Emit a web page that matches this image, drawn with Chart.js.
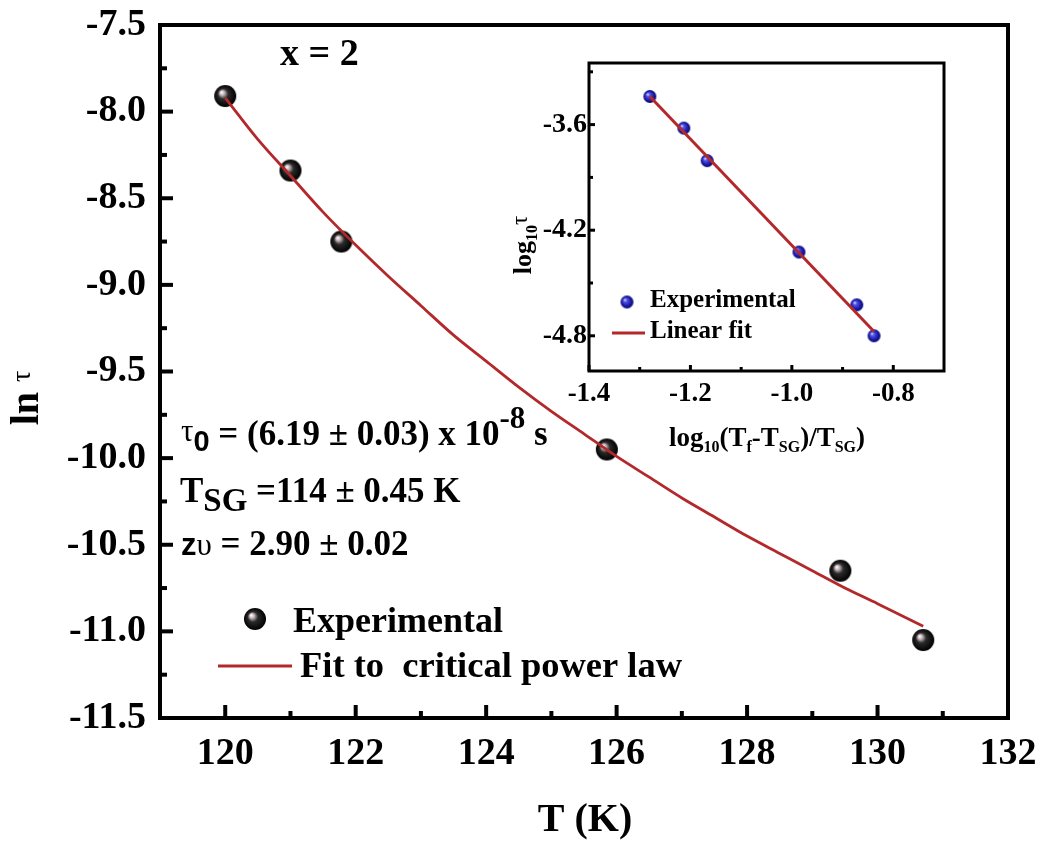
<!DOCTYPE html>
<html>
<head>
<meta charset="utf-8">
<script src="https://cdn.jsdelivr.net/npm/chart.js@4/dist/chart.umd.min.js"></script>
<style>
html,body{margin:0;padding:0;background:#fff;}
#wrap{position:relative;width:1044px;height:842px;background:#fff;}
#main{position:absolute;left:0;top:0;}
#inset{position:absolute;left:480px;top:40px;}
</style>
</head>
<body>
<div id="wrap">
<canvas id="main" width="1044" height="842"></canvas>
<canvas id="inset" width="480" height="420"></canvas>
</div>
<script>
// ---------- main chart data ----------
const tempK = [120.0, 121.0, 121.78, 125.85, 129.43, 130.7];
const lnTau = [-7.91, -8.34, -8.75, -9.95, -10.65, -11.05];
const fitTempK = [120, 120.5, 121, 121.5, 122, 122.5, 123, 123.5, 124, 124.5, 125, 125.5, 126, 126.5, 127, 127.5, 128, 128.5, 129, 129.5, 130, 130.7];
const fitLnTau = [-7.92, -8.16, -8.37, -8.58, -8.77, -8.95, -9.12, -9.29, -9.44, -9.59, -9.73, -9.86, -9.99, -10.11, -10.23, -10.34, -10.45, -10.55, -10.65, -10.75, -10.84, -10.97];
const xMajorTicks = [120, 122, 124, 126, 128, 130, 132];
const xMinorTicks = [121, 123, 125, 127, 129, 131];
const yMajorTicks = [-7.5, -8.0, -8.5, -9.0, -9.5, -10.0, -10.5, -11.0, -11.5];
const yMinorTicks = [-7.75, -8.25, -8.75, -9.25, -9.75, -10.25, -10.75, -11.25];

// ---------- inset data ----------
const insetLogReduced = [-1.28, -1.213, -1.167, -0.986, -0.872, -0.838];
const insetLogTau = [-3.44, -3.62, -3.805, -4.324, -4.624, -4.80];
const insetFitX = [-1.28, -0.838];
const insetFitY = [-3.44, -4.776];
const insetXMajor = [-1.4, -1.2, -1.0, -0.8];
const insetXMinor = [-1.3, -1.1, -0.9];
const insetYMajor = [-3.6, -4.2, -4.8];
const insetYMinor = [-3.3, -3.9, -4.5];

const SERIF = "'Liberation Serif','Times New Roman',serif";
const SANS = "'Liberation Sans',Arial,sans-serif";
const RED = '#b3282b';

function sphere(r, stops) {
  const c = document.createElement('canvas');
  c.width = c.height = 2 * r + 2;
  const g = c.getContext('2d');
  const cx = r + 1, cy = r + 1;
  const grad = g.createRadialGradient(cx - r * 0.35, cy - r * 0.35, r * 0.03, cx, cy, r);
  stops.forEach(s => grad.addColorStop(s[0], s[1]));
  g.fillStyle = grad;
  g.beginPath(); g.arc(cx, cy, r, 0, Math.PI * 2); g.fill();
  return c;
}
const blackBall = sphere(11, [[0, '#ffffff'], [0.18, '#c8b8bc'], [0.45, '#2a2a2a'], [1, '#000000']]);
const blueBall = sphere(6.5, [[0, '#e8e8ff'], [0.25, '#5555e8'], [0.7, '#1a1aa8'], [1, '#0a0a70']]);

function runsWidth(ctx, runs) {
  let w = 0;
  runs.forEach(r => { ctx.font = r[1]; w += ctx.measureText(r[0]).width; });
  return w;
}
function drawRuns(ctx, runs, x, y) {
  ctx.textAlign = 'left';
  ctx.textBaseline = 'alphabetic';
  ctx.fillStyle = '#000';
  let cx = x;
  runs.forEach(r => {
    ctx.font = r[1];
    ctx.fillText(r[0], cx, y + (r[2] || 0));
    cx += ctx.measureText(r[0]).width;
  });
}

function frameAndTicks(chart, cfg) {
  const ctx = chart.ctx, a = chart.chartArea;
  const xs = chart.scales.x, ys = chart.scales.y;
  ctx.save();
  ctx.strokeStyle = '#000';
  ctx.lineCap = 'butt';
  ctx.lineWidth = cfg.tickWidth;
  const tick = (vals, len, axis) => {
    vals.forEach(v => {
      ctx.beginPath();
      if (axis === 'x') {
        const p = xs.getPixelForValue(v);
        ctx.moveTo(p, a.bottom); ctx.lineTo(p, a.bottom - len);
      } else {
        const p = ys.getPixelForValue(v);
        ctx.moveTo(a.left, p); ctx.lineTo(a.left + len, p);
      }
      ctx.stroke();
    });
  };
  tick(cfg.xMajor, cfg.major, 'x');
  tick(cfg.xMinor, cfg.minor, 'x');
  tick(cfg.yMajor, cfg.major, 'y');
  tick(cfg.yMinor, cfg.minor, 'y');
  ctx.lineWidth = cfg.frameWidth;
  ctx.lineJoin = 'miter';
  ctx.strokeRect(a.left, a.top, a.right - a.left, a.bottom - a.top);
  ctx.restore();
}
function noPadX(h) { return s => { s.height = h; s.paddingLeft = 0; s.paddingRight = 0; }; }
function noPadY(w) { return s => { s.width = w; s.paddingTop = 0; s.paddingBottom = 0; }; }

// ---------------- MAIN CHART ----------------
const mainPlugin = {
  id: 'mainDecor',
  afterDatasetsDraw(chart) {
    frameAndTicks(chart, { xMajor: xMajorTicks, xMinor: xMinorTicks, yMajor: yMajorTicks, yMinor: yMinorTicks, major: 13, minor: 7, tickWidth: 4, frameWidth: 4 });
    const ctx = chart.ctx;
    ctx.save();
    ctx.fillStyle = '#000';
    ctx.textAlign = 'center';
    ctx.textBaseline = 'alphabetic';
    ctx.font = 'bold 40px ' + SERIF;
    ctx.fillText('T (K)', 585, 831);
    ctx.save();
    ctx.translate(38, 398);
    ctx.rotate(-Math.PI / 2);
    const yt = [['ln ', 'bold 40px ' + SERIF, 0], ['τ', '28px ' + SERIF, -8]];
    drawRuns(ctx, yt, -runsWidth(ctx, yt) / 2, 0);
    ctx.restore();

    // annotations
    drawRuns(ctx, [['x = 2', 'bold 38px ' + SERIF, 0]], 280, 65);
    drawRuns(ctx, [
      ['τ', '31px ' + SERIF, -4],
      ['0', 'bold 29px ' + SANS, 6],
      [' = (6.19 ± 0.03) x 10', 'bold 35px ' + SERIF, 0],
      ['-8', 'bold 31px ' + SERIF, -17],
      [' s', 'bold 35px ' + SERIF, 0]
    ], 181, 445);
    drawRuns(ctx, [
      ['T', 'bold 35px ' + SERIF, 0],
      ['SG', 'bold 33px ' + SERIF, 9],
      [' =114 ± 0.45 K', 'bold 35px ' + SERIF, 0]
    ], 180, 502);
    drawRuns(ctx, [
      ['z', 'bold 31px ' + SANS, 0],
      ['υ', '31px ' + SERIF, 0],
      [' = 2.90 ± 0.02', 'bold 35px ' + SERIF, 0]
    ], 181, 555);

    // legend
    ctx.drawImage(blackBall, 255 - 12, 619 - 12);
    drawRuns(ctx, [['Experimental', 'bold 36px ' + SERIF, 0]], 293, 632);
    ctx.strokeStyle = RED;
    ctx.lineWidth = 3;
    ctx.beginPath(); ctx.moveTo(218, 666); ctx.lineTo(292, 666); ctx.stroke();
    drawRuns(ctx, [['Fit to  critical power law', 'bold 36.5px ' + SERIF, 0]], 300, 677);
    ctx.restore();
  }
};

new Chart(document.getElementById('main'), {
  type: 'scatter',
  data: {
    datasets: [
      {
        label: 'Fit to critical power law',
        data: fitTempK.map((t, i) => ({ x: t, y: fitLnTau[i] })),
        showLine: true,
        borderColor: RED,
        borderWidth: 2.8,
        pointRadius: 0,
        cubicInterpolationMode: 'monotone',
        fill: false
      },
      {
        label: 'Experimental',
        data: tempK.map((t, i) => ({ x: t, y: lnTau[i] })),
        pointStyle: blackBall,
        pointRadius: 11,
        showLine: false
      }
    ]
  },
  options: {
    responsive: false,
    animation: false,
    events: [],
    layout: { padding: { left: 0, right: 36, top: 25, bottom: 0 } },
    plugins: { legend: { display: false }, tooltip: { enabled: false } },
    scales: {
      x: {
        type: 'linear', min: 119, max: 132,
        afterBuildTicks(s) { s.ticks = xMajorTicks.map(v => ({ value: v })); },
        afterFit: noPadX(124),
        grid: { display: false, drawTicks: false },
        border: { display: false },
        ticks: { color: '#000', padding: 13, font: { family: SERIF, size: 38, weight: 'bold' }, callback: v => String(v), maxRotation: 0, autoSkip: false }
      },
      y: {
        type: 'linear', min: -11.5, max: -7.5,
        afterBuildTicks(s) { s.ticks = yMajorTicks.map(v => ({ value: v })); },
        afterFit: noPadY(160),
        grid: { display: false, drawTicks: false },
        border: { display: false },
        ticks: { color: '#000', padding: 14, font: { family: SERIF, size: 38, weight: 'bold' }, callback: v => Number(v).toFixed(1), autoSkip: false }
      }
    }
  },
  plugins: [mainPlugin]
});

// ---------------- INSET CHART ----------------
const insetPlugin = {
  id: 'insetDecor',
  afterDatasetsDraw(chart) {
    frameAndTicks(chart, { xMajor: insetXMajor, xMinor: insetXMinor, yMajor: insetYMajor, yMinor: insetYMinor, major: 6, minor: 4, tickWidth: 3, frameWidth: 3 });
    const ctx = chart.ctx;
    ctx.save();
    const xt = [
      ['log', 'bold 27px ' + SERIF, 0], ['10', 'bold 16px ' + SERIF, 6],
      ['(T', 'bold 27px ' + SERIF, 0], ['f', 'bold 16px ' + SERIF, 6],
      ['-T', 'bold 27px ' + SERIF, 0], ['SG', 'bold 16px ' + SERIF, 6],
      [')/T', 'bold 27px ' + SERIF, 0], ['SG', 'bold 16px ' + SERIF, 6],
      [')', 'bold 27px ' + SERIF, 0]
    ];
    drawRuns(ctx, xt, 287 - runsWidth(ctx, xt) / 2, 406);
    ctx.save();
    ctx.translate(51, 205);
    ctx.rotate(-Math.PI / 2);
    const ytl = [['log', 'bold 26px ' + SERIF, 0], ['10', 'bold 16px ' + SERIF, 6], ['τ', '23px ' + SERIF, -4]];
    drawRuns(ctx, ytl, -runsWidth(ctx, ytl) / 2, 0);
    ctx.restore();
    // legend
    ctx.drawImage(blueBall, 147 - 7.5, 262 - 7.5);
    drawRuns(ctx, [['Experimental', 'bold 25px ' + SERIF, 0]], 170, 267);
    ctx.strokeStyle = RED;
    ctx.lineWidth = 3;
    ctx.beginPath(); ctx.moveTo(132, 293); ctx.lineTo(165, 293); ctx.stroke();
    drawRuns(ctx, [['Linear fit', 'bold 25px ' + SERIF, 0]], 170, 298);
    ctx.restore();
  }
};

new Chart(document.getElementById('inset'), {
  type: 'scatter',
  data: {
    datasets: [
      {
        label: 'Linear fit',
        data: insetFitX.map((x, i) => ({ x: x, y: insetFitY[i] })),
        showLine: true,
        borderColor: RED,
        borderWidth: 3,
        pointRadius: 0,
        fill: false
      },
      {
        label: 'Experimental',
        data: insetLogReduced.map((x, i) => ({ x: x, y: insetLogTau[i] })),
        pointStyle: blueBall,
        pointRadius: 6.5,
        showLine: false
      }
    ]
  },
  options: {
    responsive: false,
    animation: false,
    events: [],
    layout: { padding: { left: 0, right: 16, top: 23, bottom: 0 } },
    plugins: { legend: { display: false }, tooltip: { enabled: false } },
    scales: {
      x: {
        type: 'linear', min: -1.4, max: -0.7,
        afterBuildTicks(s) { s.ticks = insetXMajor.map(v => ({ value: v })); },
        afterFit: noPadX(89),
        grid: { display: false, drawTicks: false },
        border: { display: false },
        ticks: { color: '#000', padding: 7, font: { family: SERIF, size: 27, weight: 'bold' }, callback: v => Number(v).toFixed(1), maxRotation: 0, autoSkip: false }
      },
      y: {
        type: 'linear', min: -5.0, max: -3.25,
        afterBuildTicks(s) { s.ticks = insetYMajor.map(v => ({ value: v })); },
        afterFit: noPadY(109),
        grid: { display: false, drawTicks: false },
        border: { display: false },
        ticks: { color: '#000', padding: 2, font: { family: SERIF, size: 28, weight: 'bold' }, callback: v => Number(v).toFixed(1), autoSkip: false }
      }
    }
  },
  plugins: [insetPlugin]
});
</script>
</body>
</html>
